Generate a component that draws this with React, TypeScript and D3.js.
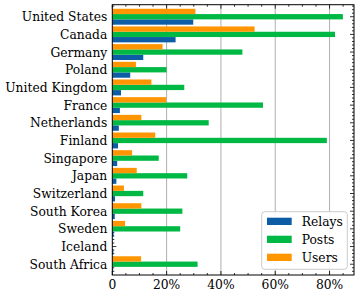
import React from "react";
import * as d3 from "d3";

// countries, top to bottom
const countries = [
  "United States", "Canada", "Germany", "Poland", "United Kingdom", "France",
  "Netherlands", "Finland", "Singapore", "Japan", "Switzerland", "South Korea",
  "Sweden", "Iceland", "South Africa",
];
// shares in percent
const relays = [29.8, 23.3, 11.4, 6.6, 3.2, 2.8, 2.4, 2.1, 1.8, 1.5, 1.0, 0.9, 0.5, 0.4, 0.3];
const posts = [84.9, 82.0, 47.9, 20.0, 26.5, 55.5, 35.5, 79.0, 17.1, 27.6, 11.4, 25.8, 25.0, 0.05, 31.4];
const users = [30.6, 52.4, 18.5, 8.7, 14.4, 19.8, 10.7, 15.8, 7.3, 9.0, 4.3, 10.7, 4.7, 0.1, 10.6];
const xTicks = [0, 20, 40, 60, 80];

const W = 359, H = 297;
const FONT = "'DejaVu Serif', serif";
const FS = 12.3;

export default function App() {
  const x = d3.scaleLinear().domain([0, 89]).range([112.3, 354]);
  const y = d3.scaleLinear().domain([-0.68, 14.61]).range([4.7, 275]);
  const [x0, x1] = x.range();
  const [y0, y1] = y.range();
  const barH = y(0.3) - y(0);

  const series = [
    { name: "Relays", values: relays, color: "#0C5DA5", off: 0.3 },
    { name: "Posts", values: posts, color: "#00B945", off: 0 },
    { name: "Users", values: users, color: "#FF9500", off: -0.3 },
  ];

  const xMinor = d3.range(0, 89, 5).filter((v) => v % 20 !== 0);
  const yMinor = d3.range(-3, 73).map((k) => k * 0.2)
    .filter((v) => v >= -0.68 && v <= 14.61 && Math.abs(v - Math.round(v)) > 0.01);

  return (
    <svg width={W} height={H} style={{ position: "absolute", left: 0, top: 0 }}
      fontFamily={FONT} fontSize={FS}>
      <rect width={W} height={H} fill="#fff" />
      {/* grid */}
      {xTicks.filter((t) => t > 0).map((t) => (
        <line key={t} x1={x(t)} x2={x(t)} y1={y0} y2={y1} stroke="#b0b0b0" strokeWidth={1} />
      ))}
      {/* ticks */}
      <g stroke="#000" strokeWidth={0.8}>
        {xTicks.map((t) => (
          <g key={t}>
            <line x1={x(t)} x2={x(t)} y1={y0} y2={y0 + 4} />
            <line x1={x(t)} x2={x(t)} y1={y1} y2={y1 - 4} />
          </g>
        ))}
        {xMinor.map((t) => (
          <g key={t}>
            <line x1={x(t)} x2={x(t)} y1={y0} y2={y0 + 2} />
            <line x1={x(t)} x2={x(t)} y1={y1} y2={y1 - 2} />
          </g>
        ))}
        {countries.map((c, i) => (
          <g key={c}>
            <line x1={x0} x2={x0 + 4} y1={y(i)} y2={y(i)} />
            <line x1={x1} x2={x1 - 4} y1={y(i)} y2={y(i)} />
          </g>
        ))}
        {yMinor.map((v) => (
          <g key={v}>
            <line x1={x0} x2={x0 + 2} y1={y(v)} y2={y(v)} />
            <line x1={x1} x2={x1 - 2} y1={y(v)} y2={y(v)} />
          </g>
        ))}
      </g>
      {/* bars */}
      {series.map((s) => (
        <g key={s.name} fill={s.color}>
          {s.values.map((v, i) => (
            <rect key={i} x={x(0)} y={y(i + s.off - 0.15)} width={x(v) - x(0)} height={barH} />
          ))}
        </g>
      ))}
      {/* frame */}
      <rect x={x0} y={y0} width={x1 - x0} height={y1 - y0} fill="none" stroke="#000" strokeWidth={1} />
      {/* labels */}
      {countries.map((c, i) => (
        <text key={c} x={x0 - 5} y={y(i) + 4.5} textAnchor="end" fill="#000">{c}</text>
      ))}
      {xTicks.map((t) => (
        <text key={t} x={x(t)} y={289} textAnchor="middle" fill="#000">{t === 0 ? "0" : `${t}%`}</text>
      ))}
      {/* legend */}
      <g>
        <rect x={261.7} y={211.7} width={85.6} height={57.6} rx={3} fill="#fff" fillOpacity={0.9}
          stroke="#cccccc" strokeWidth={1} />
        {series.map((s, i) => (
          <g key={s.name}>
            <rect x={267} y={217.7 + i * 18} width={24.7} height={7.3} fill={s.color} />
            <text x={301.7} y={221.3 + i * 18 + 4.5} fill="#000">{s.name}</text>
          </g>
        ))}
      </g>
    </svg>
  );
}
